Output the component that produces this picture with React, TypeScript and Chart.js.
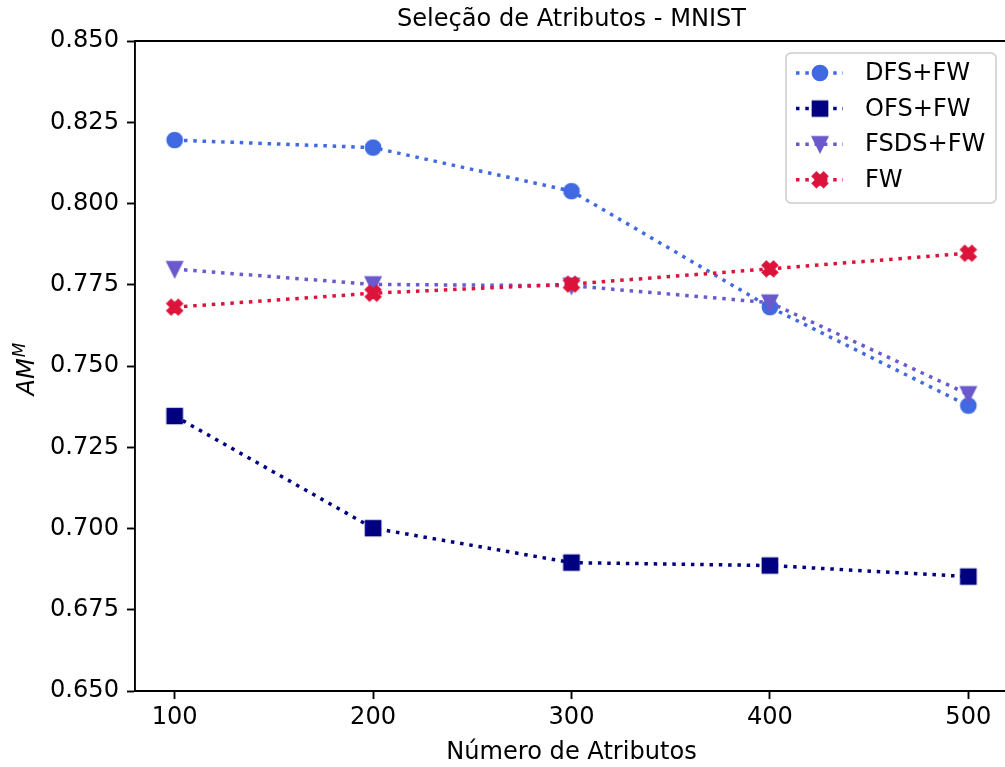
import React, { useEffect, useRef } from "react";
import { Chart, registerables } from "chart.js";

Chart.register(...registerables);

// Number of selected attributes (x axis)
const attributeCounts = [100, 200, 300, 400, 500];

// AM^M score for each method
const dfsFw = [0.8195, 0.8172, 0.8038, 0.7681, 0.7378];
const ofsFw = [0.7346, 0.7001, 0.6895, 0.6886, 0.6852];
const fsdsFw = [0.7798, 0.7751, 0.7747, 0.7695, 0.7413];
const fwOnly = [0.7681, 0.7724, 0.7752, 0.7799, 0.7847];

const seriesNames = ["DFS+FW", "OFS+FW", "FSDS+FW", "FW"];
const seriesColors = ["#4169e1", "#000080", "#6a5acd", "#dc143c"];
const seriesMarkers = ["circle", "square", "triangleDown", "xFilled"];

const yTickValues = [0.65, 0.675, 0.7, 0.725, 0.75, 0.775, 0.8, 0.825, 0.85];

const chartTitle = "Seleção de Atributos - MNIST";
const xAxisTitle = "Número de Atributos";

const FONT = "'DejaVu Sans', sans-serif";
const FONT_SIZE = 24.1;
const LINE_W = 3.5;
const DASH = [3.5, 5.8];
const SPINE_W = 1.9;

// Builds a small canvas holding a filled marker with an edge of the same colour
function makeMarker(kind: string, color: string): HTMLCanvasElement {
  const c = document.createElement("canvas");
  c.width = 26;
  c.height = 26;
  const g = c.getContext("2d")!;
  const s = 14.4; // marker size
  const cx = 13;
  const cy = 13;
  g.fillStyle = color;
  g.strokeStyle = color;
  g.lineWidth = 2.3;
  g.lineJoin = "miter";
  g.beginPath();
  if (kind === "circle") {
    g.lineJoin = "round";
    g.arc(cx, cy, s / 2, 0, Math.PI * 2);
  } else if (kind === "square") {
    g.rect(cx - s / 2, cy - s / 2, s, s);
  } else if (kind === "triangleDown") {
    g.moveTo(cx - s / 2, cy - s / 2);
    g.lineTo(cx + s / 2, cy - s / 2);
    g.lineTo(cx, cy + s / 2);
    g.closePath();
  } else {
    const pts = [
      [-1, -2], [0, -1], [1, -2], [2, -1], [1, 0], [2, 1],
      [1, 2], [0, 1], [-1, 2], [-2, 1], [-1, 0], [-2, -1],
    ];
    const k = s / 4;
    pts.forEach(([px, py], i) => {
      const X = cx + px * k;
      const Y = cy + py * k;
      if (i === 0) g.moveTo(X, Y);
      else g.lineTo(X, Y);
    });
    g.closePath();
  }
  g.fill();
  g.stroke();
  return c;
}

export default function App() {
  const canvasRef = useRef<HTMLCanvasElement | null>(null);

  useEffect(() => {
    const canvas = canvasRef.current;
    if (!canvas) return;

    const markers = seriesMarkers.map((m, i) => makeMarker(m, seriesColors[i]));
    const seriesValues = [dfsFw, ofsFw, fsdsFw, fwOnly];

    const datasets = seriesValues.map((vals, i) => ({
      label: seriesNames[i],
      data: attributeCounts.map((x, j) => ({ x, y: vals[j] })),
      borderColor: seriesColors[i],
      backgroundColor: seriesColors[i],
      borderWidth: LINE_W,
      borderDash: DASH,
      borderCapStyle: "butt" as const,
      pointStyle: markers[i],
      pointRadius: 8,
      tension: 0,
      fill: false,
      order: seriesNames.length - i,
    }));

    // Title, axis labels, top/right spines and legend
    const decorations = {
      id: "decorations",
      afterDraw(chart: any) {
        const ctx = chart.ctx as CanvasRenderingContext2D;
        const area = chart.chartArea;
        ctx.save();

        // remaining spines
        ctx.strokeStyle = "#000";
        ctx.lineWidth = SPINE_W;
        ctx.beginPath();
        ctx.moveTo(area.left - SPINE_W / 2, area.top);
        ctx.lineTo(area.right + SPINE_W / 2, area.top);
        ctx.moveTo(area.right, area.top);
        ctx.lineTo(area.right, area.bottom);
        ctx.stroke();

        // title
        ctx.fillStyle = "#000";
        ctx.font = `${FONT_SIZE}px ${FONT}`;
        ctx.textAlign = "center";
        ctx.textBaseline = "alphabetic";
        const midX = (area.left + area.right) / 2;
        ctx.fillText(chartTitle, midX, 26);

        // x axis title
        ctx.fillText(xAxisTitle, midX, 759);

        // y axis title: italic AM with superscript M
        const mainFont = `italic ${FONT_SIZE}px ${FONT}`;
        const supFont = `italic ${FONT_SIZE * 0.7}px ${FONT}`;
        ctx.font = mainFont;
        const wMain = ctx.measureText("AM").width;
        ctx.font = supFont;
        const wSup = ctx.measureText("M").width;
        const total = wMain + wSup + 1;
        const midY = (area.top + area.bottom) / 2;
        ctx.translate(34, midY + 3);
        ctx.rotate(-Math.PI / 2);
        ctx.textAlign = "left";
        ctx.font = mainFont;
        ctx.fillText("AM", -total / 2, 0);
        ctx.font = supFont;
        ctx.fillText("M", -total / 2 + wMain + 1, -9);
        ctx.setTransform(1, 0, 0, 1, 0, 0);

        // legend
        const bx = 786;
        const by = 53;
        const bw = 210;
        const bh = 150;
        const r = 5;
        ctx.beginPath();
        ctx.moveTo(bx + r, by);
        ctx.arcTo(bx + bw, by, bx + bw, by + bh, r);
        ctx.arcTo(bx + bw, by + bh, bx, by + bh, r);
        ctx.arcTo(bx, by + bh, bx, by, r);
        ctx.arcTo(bx, by, bx + bw, by, r);
        ctx.closePath();
        ctx.fillStyle = "rgba(255,255,255,0.8)";
        ctx.fill();
        ctx.strokeStyle = "#cccccc";
        ctx.lineWidth = 1.5;
        ctx.stroke();

        const rowY = [73, 108.6, 144.2, 179.8];
        seriesNames.forEach((name, i) => {
          const y = rowY[i];
          ctx.strokeStyle = seriesColors[i];
          ctx.lineWidth = LINE_W;
          ctx.setLineDash(DASH);
          ctx.lineCap = "butt";
          ctx.beginPath();
          ctx.moveTo(796, y);
          ctx.lineTo(843, y);
          ctx.stroke();
          ctx.setLineDash([]);
          const m = markers[i];
          ctx.drawImage(m, 820 - m.width / 2, y - m.height / 2);
          ctx.fillStyle = "#000";
          ctx.font = `${FONT_SIZE}px ${FONT}`;
          ctx.textAlign = "left";
          ctx.textBaseline = "middle";
          ctx.fillText(name, 865, y + 1);
        });

        ctx.restore();
      },
    };

    const chart = new Chart(canvas, {
      type: "line",
      data: { datasets },
      options: {
        responsive: false,
        animation: false,
        devicePixelRatio: 1,
        layout: { autoPadding: false, padding: { left: 0, top: 41, right: 2, bottom: 0 } },
        plugins: {
          legend: { display: false },
          title: { display: false },
          tooltip: { enabled: false },
        },
        scales: {
          x: {
            type: "linear",
            min: 80,
            max: 520,
            afterFit(scale: any) {
              scale.height = 76;
              scale.paddingRight = 0;
              scale.paddingLeft = 0;
            },
            afterBuildTicks(scale: any) {
              scale.ticks = attributeCounts.map((v) => ({ value: v }));
            },
            ticks: {
              color: "#000",
              font: { family: FONT, size: FONT_SIZE },
              padding: 4,
              maxRotation: 0,
              autoSkip: false,
              callback: (v: any) => String(v),
            },
            grid: {
              drawOnChartArea: false,
              drawTicks: true,
              tickLength: 8,
              tickWidth: SPINE_W,
              tickColor: "#000",
            },
            border: { display: true, color: "#000", width: SPINE_W },
          },
          y: {
            type: "linear",
            min: 0.65,
            max: 0.85,
            afterFit(scale: any) {
              scale.width = 135;
              scale.paddingTop = 0;
              scale.paddingBottom = 0;
            },
            afterBuildTicks(scale: any) {
              scale.ticks = yTickValues.map((v) => ({ value: v }));
            },
            ticks: {
              color: "#000",
              font: { family: FONT, size: FONT_SIZE },
              padding: 8,
              autoSkip: false,
              callback: (v: any) => Number(v).toFixed(3),
            },
            grid: {
              drawOnChartArea: false,
              drawTicks: true,
              tickLength: 8,
              tickWidth: SPINE_W,
              tickColor: "#000",
            },
            border: { display: true, color: "#000", width: SPINE_W },
          },
        },
      },
      plugins: [decorations],
    } as any);

    return () => chart.destroy();
  }, []);

  return (
    <div
      style={{
        position: "absolute",
        left: 0,
        top: 0,
        width: 1005,
        height: 767,
        overflow: "hidden",
        background: "#fff",
      }}
    >
      <canvas ref={canvasRef} width={1010} height={767} style={{ display: "block" }} />
    </div>
  );
}
